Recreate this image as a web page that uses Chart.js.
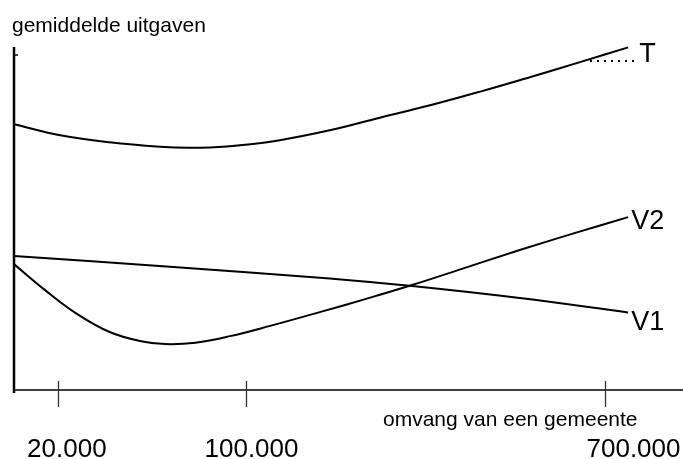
<!DOCTYPE html>
<html>
<head>
<meta charset="utf-8">
<script src="https://cdn.jsdelivr.net/npm/chart.js@4"></script>
<style>
  html, body { margin: 0; padding: 0; background: #fff; }
  #wrap { width: 683px; height: 459px; }
</style>
</head>
<body>
<div id="wrap"><canvas id="grafiek"></canvas></div>
<script>
// positie langs de as (0..100), geschat uit de figuur
const xT  = [0, 6.9, 14.3, 21.8, 26.3, 31.8, 39.3, 47.2, 54.7, 62.2, 69.7, 77.1, 84.6, 91.8];
const yT  = [77.5, 74.3, 72.2, 70.9, 70.6, 71.0, 72.7, 75.7, 79.4, 83.0, 87.0, 91.2, 95.6, 99.9];
const xV1 = [0, 23.3, 47.2, 59.5, 75.6, 91.8];
const yV1 = [39.1, 35.9, 32.5, 30.3, 26.8, 22.6];
const xV2 = [0, 4.6, 9.4, 14.3, 18.8, 22.6, 27.1, 32.3, 38.3, 45.7, 52.5, 59.5, 67.4, 75.6, 83.9, 91.8];
const yV2 = [36.7, 29.2, 22.2, 16.9, 14.3, 13.4, 13.8, 15.7, 18.7, 22.7, 26.5, 30.6, 35.6, 40.8, 45.8, 50.4];

const seriesNames = ["T", "V1", "V2"];
const tickAt = [6.6, 34.7, 88.3];
const tickLabels = ["20.000", "100.000", "700.000"];
const tickLabelAt = [7.9, 35.5, 92.6];
const yTitle = "gemiddelde uitgaven";
const xTitle = "omvang van een gemeente";

function pts(xs, ys) {
    return xs.map(function (x, i) { return { x: x, y: ys[i] }; });
}

const lijn = {
    borderColor: "#000",
    borderWidth: 2,
    pointRadius: 0,
    fill: false,
    tension: 0.4,
    clip: false
};

// assen, streepjes en teksten zelf tekenen
const assenPlugin = {
    id: "assen",
    afterDraw: function (chart) {
        const ctx = chart.ctx;
        const sx = chart.scales.x;
        const sy = chart.scales.y;
        const x0 = sx.getPixelForValue(0);
        const y0 = sy.getPixelForValue(0);
        const yTop = sy.getPixelForValue(100);

        ctx.save();
        ctx.strokeStyle = "#000";
        ctx.lineCap = "butt";

        // y-as
        ctx.lineWidth = 2.5;
        ctx.beginPath();
        ctx.moveTo(x0, yTop);
        ctx.lineTo(x0, y0 + 3);
        ctx.stroke();
        ctx.lineWidth = 1.5;
        ctx.beginPath();
        ctx.moveTo(x0, yTop + 8);
        ctx.lineTo(x0 + 4, yTop + 8);
        ctx.stroke();

        // x-as
        ctx.lineWidth = 1.6;
        ctx.beginPath();
        ctx.moveTo(x0, y0);
        ctx.lineTo(chart.width, y0);
        ctx.stroke();

        // streepjes
        ctx.strokeStyle = "#333";
        ctx.lineWidth = 1.3;
        tickAt.forEach(function (t) {
            const px = Math.round(sx.getPixelForValue(t)) + 0.5;
            ctx.beginPath();
            ctx.moveTo(px, y0 - 9);
            ctx.lineTo(px, y0 + 17);
            ctx.stroke();
        });

        ctx.fillStyle = "#000";
        ctx.textBaseline = "alphabetic";
        ctx.font = "26px 'Liberation Sans', Arial, sans-serif";
        ctx.textAlign = "center";
        tickLabels.forEach(function (lab, i) {
            ctx.fillText(lab, sx.getPixelForValue(tickLabelAt[i]), y0 + 67);
        });

        ctx.font = "21px 'Liberation Sans', Arial, sans-serif";
        ctx.textAlign = "left";
        ctx.fillText(yTitle, 12, 32);
        ctx.fillText(xTitle, 383, y0 + 36);

        // namen bij de lijnen
        ctx.font = "27px 'Liberation Sans', Arial, sans-serif";
        const offs = [[11, 15], [3, 18], [3, 12]];
        chart.data.datasets.forEach(function (ds, i) {
            const meta = chart.getDatasetMeta(i);
            const last = meta.data[meta.data.length - 1];
            ctx.fillText(seriesNames[i], last.x + offs[i][0], last.y + offs[i][1]);
            if (i === 0) {
                // stippellijn naar T
                const yy = Math.round(last.y + 13);
                for (let xx = last.x - 38; xx < last.x + 9; xx += 7) {
                    ctx.fillRect(Math.round(xx), yy, 2, 2);
                }
            }
        });
        ctx.restore();
    }
};

const ctx = document.getElementById("grafiek").getContext("2d");
new Chart(ctx, {
    type: "line",
    data: {
        datasets: [
            Object.assign({ label: seriesNames[0], data: pts(xT, yT) }, lijn),
            Object.assign({ label: seriesNames[1], data: pts(xV1, yV1) }, lijn),
            Object.assign({ label: seriesNames[2], data: pts(xV2, yV2) }, lijn)
        ]
    },
    options: {
        responsive: true,
        maintainAspectRatio: false,
        animation: false,
        layout: { padding: { left: 14, right: 0, top: 47, bottom: 69 } },
        plugins: { legend: { display: false }, tooltip: { enabled: false } },
        scales: {
            x: { type: "linear", min: 0, max: 100, display: false },
            y: { type: "linear", min: 0, max: 100, display: false }
        }
    },
    plugins: [assenPlugin]
});
</script>
</body>
</html>
